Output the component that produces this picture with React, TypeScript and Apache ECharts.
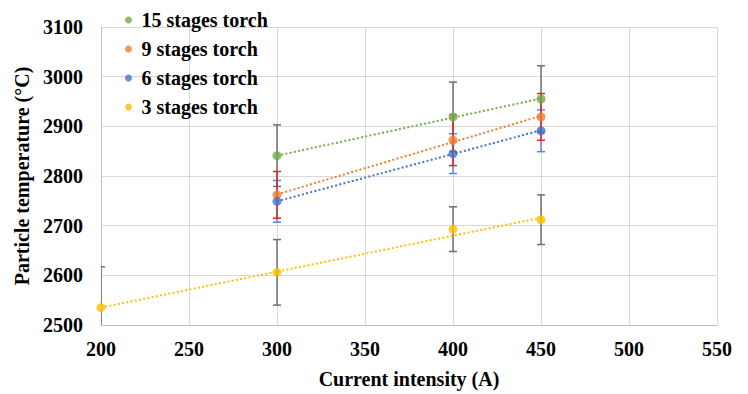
import React, { useEffect, useRef } from "react";
import * as echarts from "echarts";

const seriesNames = ["15 stages torch", "9 stages torch", "6 stages torch", "3 stages torch"];
const colors = ["#70ad47", "#ed7d31", "#4472c4", "#ffc000"];
const errColors = ["#6f6f6f", "#e0262c", "#5a86d8", "#6f6f6f"];

const current15 = [300, 400, 450];
const temp15 = [2841, 2919, 2955];
const err15 = [62, 70, 67];

const current9 = [300, 400, 450];
const temp9 = [2762, 2872, 2919];
const err9 = [47, 51, 47];

const current6 = [300, 400, 450];
const temp6 = [2749, 2845, 2891];
const err6 = [42, 40, 42];

const current3 = [200, 300, 400, 450];
const temp3 = [2535, 2606, 2693, 2712];
const err3 = [82, 66, 45, 50];

// trendline endpoints
const trendX15 = [300, 450];
const trend15 = [2841, 2956];
const trendX9 = [300, 450];
const trend9 = [2763, 2921];
const trendX6 = [300, 450];
const trend6 = [2749, 2892];
const trendX3 = [200, 450];
const trend3 = [2535, 2716];

const xTicks = { min: 200, max: 550, interval: 50 };
const yTicks = { min: 2500, max: 3100, interval: 100 };

const FONT = '"Liberation Serif", "Times New Roman", serif';

export default function App() {
  const ref = useRef<HTMLDivElement>(null);
  useEffect(() => {
    if (!ref.current) return;
    const chart = echarts.init(ref.current, null, { renderer: "svg" });
    const groups = [
      { x: current15, y: temp15, e: err15, tx: trendX15, ty: trend15 },
      { x: current9, y: temp9, e: err9, tx: trendX9, ty: trend9 },
      { x: current6, y: temp6, e: err6, tx: trendX6, ty: trend6 },
      { x: current3, y: temp3, e: err3, tx: trendX3, ty: trend3 },
    ];
    const series: any[] = [];
    [3, 0, 2, 1].forEach((i) => {
      const g = groups[i];
      series.push({
        type: "custom",
        name: "err" + i,
        clip: true,
        z: 2,
        silent: true,
        data: g.x.map((xv, k) => [xv, g.y[k] - g.e[k], g.y[k] + g.e[k]]),
        encode: { x: 0, y: [1, 2] },
        renderItem: (params: any, api: any) => {
          const xv = api.value(0);
          const lo = api.value(1);
          const hi = api.value(2);
          const p1 = api.coord([xv, hi]);
          const p2 = api.coord([xv, lo]);
          const w = 4;
          const style = { stroke: errColors[i], lineWidth: 1.5 };
          return {
            type: "group",
            children: [
              { type: "line", shape: { x1: p1[0], y1: p1[1], x2: p2[0], y2: p2[1] }, style },
              { type: "line", shape: { x1: p1[0] - w, y1: p1[1], x2: p1[0] + w, y2: p1[1] }, style },
              { type: "line", shape: { x1: p2[0] - w, y1: p2[1], x2: p2[0] + w, y2: p2[1] }, style },
            ],
          };
        },
      });
    });
    groups.forEach((g, i) => {
      series.push({
        type: "line",
        name: "trend" + i,
        z: 3,
        silent: true,
        symbol: "none",
        data: g.tx.map((xv, k) => [xv, g.ty[k]]),
        lineStyle: { color: colors[i], width: 2, type: [2, 2.3] },
      });
    });
    groups.forEach((g, i) => {
      series.push({
        type: "scatter",
        name: seriesNames[i],
        z: 4,
        symbol: "circle",
        symbolSize: 9,
        itemStyle: { color: colors[i] },
        data: g.x.map((xv, k) => [xv, g.y[k]]),
      });
    });

    const txt = { fontFamily: FONT, fontWeight: "bold", fontSize: 20, color: "#000" };
    chart.setOption({
      animation: false,
      backgroundColor: "#ffffff",
      color: colors,
      textStyle: { fontFamily: FONT },
      grid: { left: 101, right: 31, top: 27, bottom: 67, containLabel: false },
      legend: {
        data: seriesNames,
        orient: "vertical",
        left: 120,
        top: 5,
        itemWidth: 16,
        itemHeight: 7,
        itemGap: 9,
        icon: "circle",
        textStyle: txt,
      },
      xAxis: {
        type: "value",
        min: xTicks.min,
        max: xTicks.max,
        interval: xTicks.interval,
        name: "Current intensity (A)",
        nameLocation: "middle",
        nameGap: 44,
        nameTextStyle: txt,
        axisLine: { show: true, lineStyle: { color: "#bfbfbf", width: 1 } },
        axisTick: { show: false },
        axisLabel: { ...txt, margin: 14, formatter: (v: number) => String(v) },
        splitLine: { show: true, lineStyle: { color: "#d9d9d9", width: 1 } },
      },
      yAxis: {
        type: "value",
        min: yTicks.min,
        max: yTicks.max,
        interval: yTicks.interval,
        name: "Particle temperature (°C)",
        nameLocation: "middle",
        nameGap: 62,
        nameTextStyle: txt,
        axisLine: { show: true, lineStyle: { color: "#bfbfbf", width: 1 } },
        axisTick: { show: false },
        axisLabel: { ...txt, margin: 18, formatter: (v: number) => String(v) },
        splitLine: { show: true, lineStyle: { color: "#d9d9d9", width: 1 } },
      },
      series,
    });
    return () => chart.dispose();
  }, []);
  return (
    <div
      ref={ref}
      style={{ position: "absolute", left: 0, top: 0, width: 748, height: 394 }}
    />
  );
}
